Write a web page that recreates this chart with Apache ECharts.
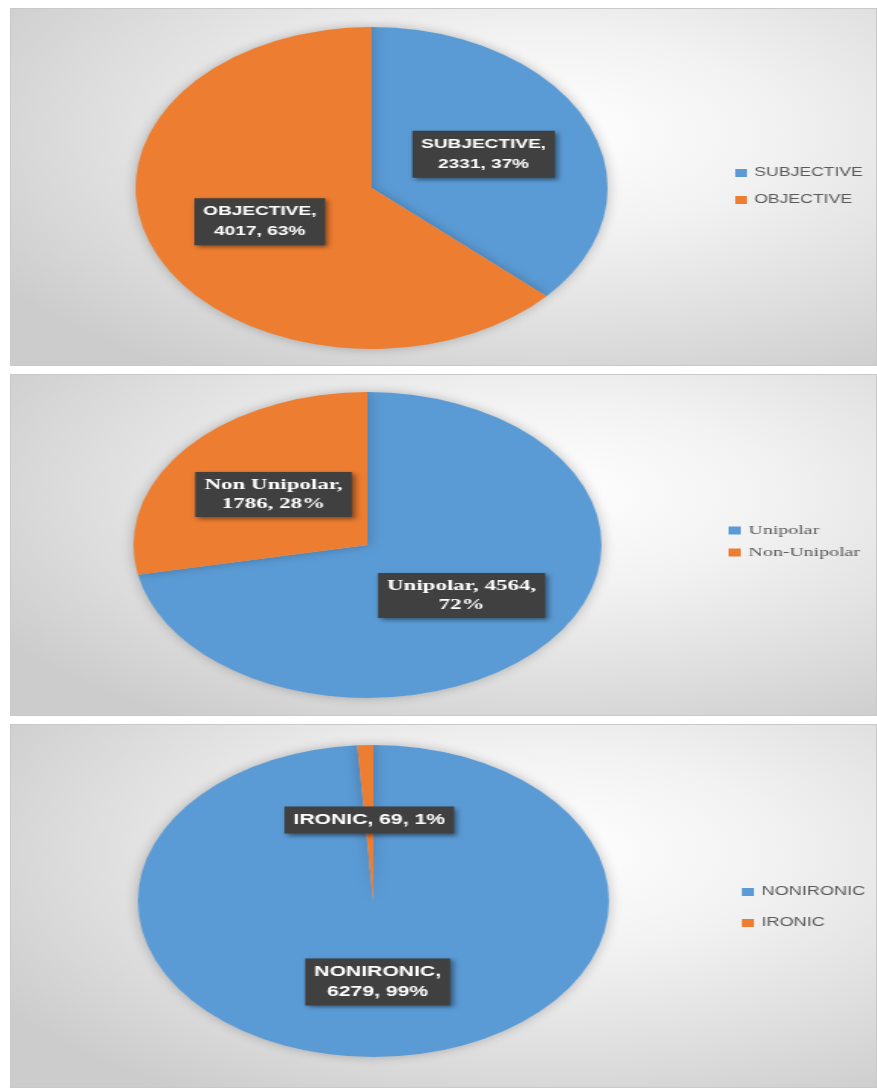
<!DOCTYPE html>
<html>
<head>
<meta charset="utf-8">
<script src="https://cdn.jsdelivr.net/npm/echarts@6/dist/echarts.min.js"></script>
<style>
  html, body { margin: 0; padding: 0; background: #ffffff; width: 877px; height: 1090px; overflow: hidden; }
  .panel {
    position: absolute; left: 10px; width: 867px; overflow: hidden;
    border: 1px solid #c9c9c9; box-sizing: border-box;
    background: radial-gradient(ellipse 75% 80% at 62% 35%, #ffffff 0%, #f2f2f2 35%, #dedede 70%, #cccccc 100%);
  }
  .chart { position: absolute; left: 0; top: 0; transform-origin: 0 0; }
</style>
</head>
<body>
<div class="panel" id="p1" style="top:8px;height:358px;"><div class="chart" id="c1"></div></div>
<div class="panel" id="p2" style="top:374px;height:342px;"><div class="chart" id="c2"></div></div>
<div class="panel" id="p3" style="top:724px;height:364px;"><div class="chart" id="c3"></div></div>
<script>
// ---- data ----
const subjCategories = ['SUBJECTIVE', 'OBJECTIVE'];
const subjValues = [2331, 4017];
const subjLabelNames = ['SUBJECTIVE', 'OBJECTIVE'];

const polCategories = ['Unipolar', 'Non-Unipolar'];
const polValues = [4564, 1786];
const polLabelNames = ['Unipolar', 'Non Unipolar'];

const ironyCategories = ['NONIRONIC', 'IRONIC'];
const ironyValues = [6279, 69];
const ironyLabelNames = ['NONIRONIC', 'IRONIC'];

// line break placement in each data label: 'name' = after name, 'value' = after value, 'none'
const subjBreaks = ['name', 'name'];
const polBreaks = ['value', 'name'];
const ironyBreaks = ['name', 'none'];

const colors = ['#5b9bd5', '#ed7d31'];

function makeOption(cfg) {
  const data = cfg.categories.map((c, i) => ({ name: c, value: cfg.values[i] }));
  return {
    animation: false,
    backgroundColor: 'transparent',
    color: colors,
    legend: {
      orient: 'vertical',
      left: cfg.legendLeft,
      top: cfg.legendTop,
      padding: 0,
      itemWidth: 8,
      itemHeight: 8,
      itemGap: cfg.legendGap,
      icon: 'rect',
      selectedMode: false,
      data: cfg.categories,
      textStyle: { color: '#595959', fontSize: cfg.legendFont, fontFamily: cfg.legendFamily }
    },
    series: [{
      type: 'pie',
      center: cfg.center,
      radius: cfg.radius,
      startAngle: 90,
      clockwise: true,
      percentPrecision: 0,
      silent: true,
      avoidLabelOverlap: false,
      itemStyle: { shadowBlur: 10, shadowColor: 'rgba(0,0,0,0.25)' },
      labelLine: { show: false },
      label: {
        show: true,
        position: 'inside',
        color: '#ffffff',
        fontWeight: 'bold',
        fontSize: cfg.labelFont,
        fontFamily: cfg.labelFamily,
        lineHeight: cfg.labelLineHeight,
        align: 'center',
        backgroundColor: '#404040',
        padding: [4, 6, 3, 6],
        shadowBlur: 4,
        shadowOffsetX: 2,
        shadowOffsetY: 2,
        shadowColor: 'rgba(0,0,0,0.45)',
        formatter: function (p) {
          const i = p.dataIndex;
          const nm = cfg.labelNames[i];
          const b = cfg.breaks[i];
          const s1 = b === 'name' ? ',\n' : ', ';
          const s2 = b === 'value' ? ',\n' : ', ';
          return nm + s1 + p.value + s2 + Math.round(p.percent) + '%';
        }
      },
      data: data
    }]
  };
}

const panels = [
  { id: 'c1', w: 867, h: 358, sx: 1.466, categories: subjCategories, values: subjValues, labelNames: subjLabelNames, breaks: subjBreaks,
    center: [246, 179], radius: 161, legendLeft: 494, legendTop: 158, legendGap: 15, legendFont: 12, legendFamily: 'Liberation Sans',
    labelFont: 13, labelFamily: 'Liberation Sans', labelLineHeight: 20 },
  { id: 'c2', w: 867, h: 342, sx: 1.53, categories: polCategories, values: polValues, labelNames: polLabelNames, breaks: polBreaks,
    center: [233, 170], radius: 153, legendLeft: 469, legendTop: 149, legendGap: 9, legendFont: 13, legendFamily: 'Liberation Serif',
    labelFont: 15, labelFamily: 'Liberation Serif', labelLineHeight: 19 },
  { id: 'c3', w: 867, h: 364, sx: 1.51, categories: ironyCategories, values: ironyValues, labelNames: ironyLabelNames, breaks: ironyBreaks,
    center: [240, 176], radius: 156, legendLeft: 484, legendTop: 161, legendGap: 19, legendFont: 12, legendFamily: 'Liberation Sans',
    labelFont: 14, labelFamily: 'Liberation Sans', labelLineHeight: 20 }
];

panels.forEach(cfg => {
  const el = document.getElementById(cfg.id);
  el.style.width = (cfg.w / cfg.sx) + 'px';
  el.style.height = cfg.h + 'px';
  el.style.transform = 'scaleX(' + cfg.sx + ')';
  const chart = echarts.init(el, null, { renderer: 'canvas' });
  chart.setOption(makeOption(cfg));
});
</script>
</body>
</html>
